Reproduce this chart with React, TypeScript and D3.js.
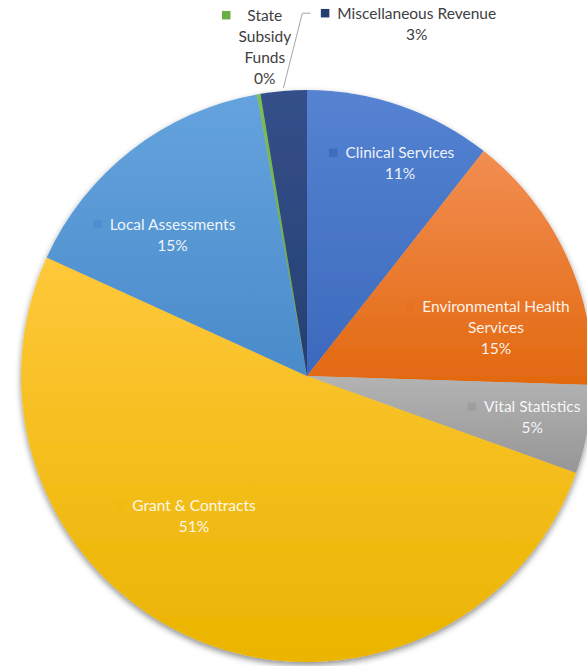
import React, { useEffect, useRef } from "react";
import * as d3 from "d3";

const categories = [
  "Clinical Services",
  "Environmental Health Services",
  "Vital Statistics",
  "Grant & Contracts",
  "Local Assessments",
  "State Subsidy Funds",
  "Miscellaneous Revenue",
];
const values = [10.6, 14.9, 5.0, 51.3, 15.4, 0.2, 2.6];
const labelLines = [
  ["Clinical Services"],
  ["Environmental Health", "Services"],
  ["Vital Statistics"],
  ["Grant & Contracts"],
  ["Local Assessments"],
  ["State", "Subsidy", "Funds"],
  ["Miscellaneous Revenue"],
];

// styling / layout (not data)
const topColors = ["#5583D2", "#F28E52", "#B3B3B3", "#FFC83A", "#64A3DD", "#7CC04F", "#34508A"];
const bottomColors = ["#3C69BD", "#E2680F", "#969696", "#EAB400", "#4A8BCB", "#5FA03A", "#263F72"];
const markerColors = ["#3F6CC0", "#E57220", "#9E9E9E", "#F0BB10", "#4E8FCF", "#6AAF43", "#243E72"];
const inside = [true, true, true, true, true, false, false];
// label anchor in polar coords: [radius px, angle deg clockwise from top]
const labelPolar: [number, number][] = [
  [232, 23.6],
  [195, 75.7],
  [229, 100.4],
  [180, 218.9],
  [195, 316.4],
  [332, 352.7],
  [369, 17.3],
];

const W = 587;
const H = 666;
const CX = 307;
const CY = 376;
const R = 286;
const LINE_H = 21;
const FONT = "Lato, 'Open Sans', sans-serif";
const FONT_SIZE = 15.5;

export default function App() {
  const ref = useRef<SVGSVGElement | null>(null);

  useEffect(() => {
    document.body.style.margin = "0";
    const svg = d3.select(ref.current!);
    svg.selectAll("*").remove();

    const defs = svg.append("defs");
    const f = defs
      .append("filter")
      .attr("id", "shadow")
      .attr("x", "-10%")
      .attr("y", "-10%")
      .attr("width", "120%")
      .attr("height", "120%");
    f.append("feDropShadow")
      .attr("dx", 0)
      .attr("dy", 3)
      .attr("stdDeviation", 3)
      .attr("flood-color", "#000")
      .attr("flood-opacity", 0.45);

    categories.forEach((_, i) => {
      const g = defs
        .append("linearGradient")
        .attr("id", `grad${i}`)
        .attr("x1", 0)
        .attr("y1", 0)
        .attr("x2", 0)
        .attr("y2", 1);
      g.append("stop").attr("offset", "0%").attr("stop-color", topColors[i]);
      g.append("stop").attr("offset", "100%").attr("stop-color", bottomColors[i]);
    });

    const pie = d3
      .pie<number>()
      .sort(null)
      .startAngle(0)
      .endAngle(2 * Math.PI)
      .value((d) => d);
    const arcs = pie(values);
    const arc = d3.arc<d3.PieArcDatum<number>>().innerRadius(0).outerRadius(R);

    const root = svg.append("g").attr("transform", `translate(${CX},${CY})`);
    const pieG = root.append("g").attr("filter", "url(#shadow)");
    pieG
      .selectAll("path")
      .data(arcs)
      .join("path")
      .attr("d", arc)
      .attr("fill", (_, i) => `url(#grad${i})`);

    const total = d3.sum(values);

    // leader line for Miscellaneous Revenue
    const mArc = arcs[6];
    const mid = (mArc.startAngle + mArc.endAngle) / 2;
    const p0: [number, number] = [Math.sin(mid) * (R + 3), -Math.cos(mid) * (R + 3)];

    arcs.forEach((a, i) => {
      const [lr, ldeg] = labelPolar[i];
      const ang = (ldeg * Math.PI) / 180;
      const lx = Math.sin(ang) * lr;
      const ly = -Math.cos(ang) * lr;
      const lines = [...labelLines[i], `${Math.round((values[i] / total) * 100)}%`];
      const n = lines.length;
      const g = root.append("g");
      const color = inside[i] ? "#FFFFFF" : "#404040";
      const texts = lines.map((t, k) =>
        g
          .append("text")
          .attr("x", lx)
          .attr("y", ly + (k - (n - 1) / 2) * LINE_H)
          .attr("dy", "0.35em")
          .attr("text-anchor", "middle")
          .attr("font-family", FONT)
          .attr("font-size", FONT_SIZE)
          .attr("fill", color)
          .attr("fill-opacity", inside[i] ? 0.92 : 1)
          .text(t)
      );
      const widths = texts.map((t) => (t.node() as SVGTextElement).getComputedTextLength());
      const maxW = Math.max(...widths);
      const left = lx - maxW / 2;
      const y1 = ly + (0 - (n - 1) / 2) * LINE_H;
      const ms = 8.5;
      g.append("rect")
        .attr("x", left - 8 - ms)
        .attr("y", y1 - ms / 2)
        .attr("width", ms)
        .attr("height", ms)
        .attr("fill", markerColors[i]);

      if (i === 6) {
        const ex = left - 27;
        const ey = y1;
        root
          .append("polyline")
          .attr("points", `${p0[0]},${p0[1]} ${ex - 8},${ey} ${ex},${ey}`)
          .attr("fill", "none")
          .attr("stroke", "#A6A6A6")
          .attr("stroke-width", 1);
      }
    });
  }, []);

  return (
    <svg
      ref={ref}
      width={W}
      height={H}
      style={{ position: "absolute", left: 0, top: 0, background: "#fff" }}
    />
  );
}
